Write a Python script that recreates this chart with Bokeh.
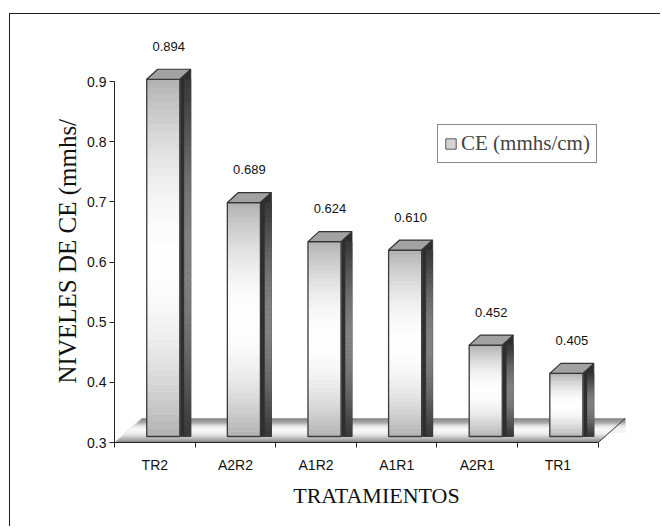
import numpy as np
from bokeh.plotting import figure
from bokeh.models import FixedTicker, Legend, LegendItem, ColumnDataSource, Title
from bokeh.embed import file_html
from bokeh.resources import INLINE

# ---- data -------------------------------------------------------------
categories = ["TR2", "A2R2", "A1R2", "A1R1", "A2R1", "TR1"]
ce_values = [0.894, 0.689, 0.624, 0.610, 0.452, 0.405]
value_labels = ["0.894", "0.689", "0.624", "0.610", "0.452", "0.405"]
y_ticks = [0.3, 0.4, 0.5, 0.6, 0.7, 0.8, 0.9]
y_tick_labels = ["0.3", "0.4", "0.5", "0.6", "0.7", "0.8", "0.9"]

# ---- frame / pseudo-3D geometry ----------------------------------------
FRAME_W, FRAME_H = 524, 421
X_RANGE = (0, 6.5)
Y_RANGE = (0.3, 1.0)
PX_X = (X_RANGE[1] - X_RANGE[0]) / FRAME_W      # data units per pixel
PX_Y = (Y_RANGE[1] - Y_RANGE[0]) / FRAME_H
Y0 = Y_RANGE[0]

LIFT = 6 * PX_Y                  # bars stand on the floor slab
FRONT_L, FRONT_R = 0.40, 0.81    # front face within its category slot
DEPTH_X, DEPTH_Y = 11 * PX_X, 10 * PX_Y
FLOOR_DX, FLOOR_DY = 27 * PX_X, 24 * PX_Y
N_SLICES = 48


def gray(level):
    level = int(max(0, min(255, round(level))))
    return "#{0:02x}{0:02x}{0:02x}".format(level)


p = figure(
    frame_width=FRAME_W, frame_height=FRAME_H,
    x_range=X_RANGE, y_range=Y_RANGE,
    min_border_left=104, min_border_right=22,
    min_border_top=7, min_border_bottom=84,
    output_backend="svg", toolbar_location=None,
    background_fill_color="white", border_fill_color="white",
)
p.margin = (13, 0, 0, 9)
p.styles = {"border-top": "1px solid #1e1e1e", "border-left": "1px solid #1e1e1e"}
p.outline_line_color = None
p.xgrid.visible = False
p.ygrid.visible = False

# ---- floor slab ---------------------------------------------------------
n_cat = len(categories)
floor_stops_h = [0, 2, 5, 9, 13, 17, 20, 24]
floor_stops_l = [120, 150, 190, 236, 248, 228, 170, 130]
fxs, fys, fcol = [], [], []
for k in range(24):
    h0, h1 = k, k + 1
    hm = (h0 + h1) / 2
    xl0, xl1 = h0 / 24 * FLOOR_DX, h1 / 24 * FLOOR_DX
    if h0 >= 10:
        xr0 = xr1 = n_cat + FLOOR_DX
    else:
        xr0, xr1 = n_cat + h0 / 24 * FLOOR_DX, n_cat + h1 / 24 * FLOOR_DX
    y0, y1 = Y0 + h0 * PX_Y, Y0 + h1 * PX_Y
    fxs.append([xl0, xr0, xr1, xl1])
    fys.append([y0, y0, y1, y1])
    fcol.append(gray(np.interp(hm, floor_stops_h, floor_stops_l)))
p.patches(fxs, fys, fill_color=fcol, line_color=fcol, line_width=0.6)
p.line([n_cat, n_cat + FLOOR_DX], [Y0, Y0 + FLOOR_DY], line_color="#333333", line_width=1)
p.line([0, FLOOR_DX], [Y0, Y0 + FLOOR_DY], line_color="#e8e8e8", line_width=1)

# ---- bars ---------------------------------------------------------------
fl, fr, fb, ft, fc = [], [], [], [], []
sxs, sys_ = [], []
gl, gr, gb, gt, gc = [], [], [], [], []
txs, tys = [], []
ol, orr, ob, ot = [], [], [], []
lx, ly = [], []
for i, v in enumerate(ce_values):
    x0, x1 = i + FRONT_L, i + FRONT_R
    x2 = x1 + DEPTH_X
    yb, yt = Y0 + LIFT, v + LIFT
    edges = np.linspace(yb, yt, N_SLICES + 1)
    for k in range(N_SLICES):
        t = (k + 0.5) / N_SLICES
        fl.append(x0); fr.append(x1); fb.append(edges[k]); ft.append(edges[k + 1])
        fc.append(gray(176 + 78 * np.sin(np.pi * t) ** 0.9))
        # lighter band on the side face
        gl.append(x1 + 0.42 * (x2 - x1)); gr.append(x2)
        gb.append(edges[k]); gt.append(edges[k + 1])
        gc.append(gray(58 + 72 * np.sin(np.pi * t) ** 1.2))
    sxs.append([x1, x1, x2, x2]); sys_.append([yb, yt, yt + DEPTH_Y, yb])
    txs.append([x0, x1, x2, x0 + DEPTH_X]); tys.append([yt, yt, yt + DEPTH_Y, yt + DEPTH_Y])
    ol.append(x0); orr.append(x1); ob.append(yb); ot.append(yt)
    lx.append((x0 + x2) / 2); ly.append(yt + 33 * PX_Y)

p.patches(sxs, sys_, fill_color="#2e2e2e", line_color="#2e2e2e", line_width=0.8)
p.quad(left=gl, right=gr, bottom=gb, top=gt, fill_color=gc, line_color=gc, line_width=0.6)
p.quad(left=fl, right=fr, bottom=fb, top=ft, fill_color=fc, line_color=fc, line_width=0.6)
p.quad(left=ol, right=orr, bottom=ob, top=ot, fill_color=None,
       line_color="#3a3a3a", line_width=1.3)
p.patches(txs, tys, fill_color="#a2a2a2", line_color="#333333", line_width=1.2)

label_src = ColumnDataSource(dict(x=lx, y=ly, text=value_labels))
p.text(x="x", y="y", text="text", source=label_src, text_align="center",
       text_baseline="middle", text_font={"value": "Liberation Sans"},
       text_font_size="13px", text_color="#111111")

# ---- legend ---------------------------------------------------------------
# hidden renderer that only supplies the legend swatch
swatch = p.quad(left=ol, right=orr, bottom=ob, top=ot, fill_color="#d4d4d4",
                line_color="#555555", line_width=1, visible=False)
legend = Legend(items=[LegendItem(label="CE (mmhs/cm)", renderers=[swatch])],
                location=(323, 279), margin=0, padding=6,
                glyph_width=13, glyph_height=13, label_standoff=4,
                label_text_font="Liberation Serif", label_text_font_size="21px",
                border_line_color="#111111", border_line_width=1,
                background_fill_color="white", background_fill_alpha=1,
                inactive_fill_alpha=0)
p.add_layout(legend)

# ---- axes ----------------------------------------------------------------
xa = p.xaxis[0]
xa.ticker = FixedTicker(ticks=[i + 0.5 for i in range(n_cat)],
                        minor_ticks=list(range(n_cat + 1)))
xa.major_label_overrides = {i + 0.5: c for i, c in enumerate(categories)}
xa.bounds = (0, n_cat)
xa.major_tick_out = 0
xa.major_tick_in = 0
xa.minor_tick_out = 5
xa.minor_tick_in = 0
xa.minor_tick_line_color = "#222222"
xa.axis_line_color = "#222222"
xa.major_label_text_font = "Liberation Sans"
xa.major_label_text_font_size = "14px"
xa.major_label_text_color = "#111111"
xa.major_label_standoff = 9
xa.axis_label = "TRATAMIENTOS"
xa.axis_label_text_font = "Liberation Serif"
xa.axis_label_text_font_size = "22px"
xa.axis_label_text_font_style = "normal"
xa.axis_label_text_color = "#111111"
xa.axis_label_standoff = 7

ya = p.yaxis[0]
ya.ticker = FixedTicker(ticks=y_ticks, minor_ticks=[])
ya.major_label_overrides = {t: s for t, s in zip(y_ticks, y_tick_labels)}
ya.bounds = (y_ticks[0], y_ticks[-1])
ya.major_tick_out = 5
ya.major_tick_in = 0
ya.major_tick_line_color = "#222222"
ya.axis_line_color = "#222222"
ya.major_label_text_font = "Liberation Sans"
ya.major_label_text_font_size = "14px"
ya.major_label_text_color = "#111111"
ya.major_label_standoff = 3

# vertical axis title in its own side panel, starting above the frame bottom
y_title = Title(text="NIVELES DE CE (mmhs/", align="left", offset=59,
                standoff=8, text_font="Liberation Serif", text_font_size="25px",
                text_font_style="normal", text_color="#111111")
p.add_layout(y_title, "left")

open("out.html", "w").write(file_html(p, INLINE))
